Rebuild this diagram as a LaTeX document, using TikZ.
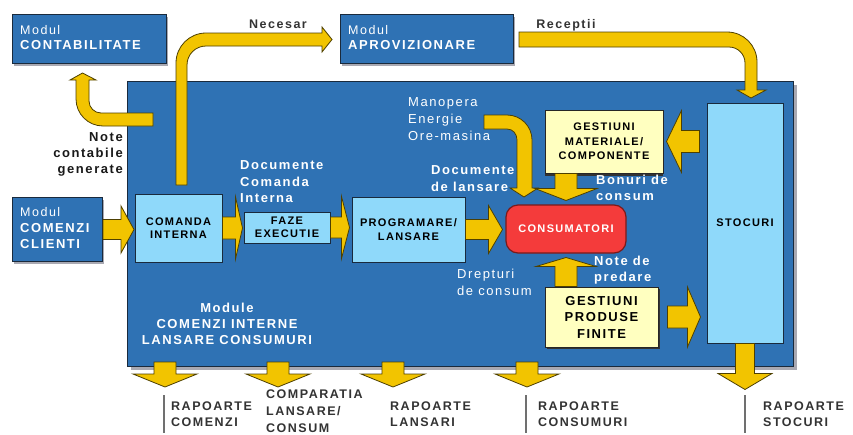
\documentclass[tikz,border=0pt]{standalone}
\usepackage{fontspec}
\setmainfont{Liberation Sans}[LetterSpace=12]
\usetikzlibrary{calc}
\definecolor{mainblue}{HTML}{2F72B4}
\definecolor{lightblue}{HTML}{8FD9FA}
\definecolor{ayellow}{HTML}{F2C400}
\definecolor{aedge}{HTML}{4E4000}
\definecolor{lyellow}{HTML}{FFFFC0}
\definecolor{cred}{HTML}{F43B3B}
\definecolor{credge}{HTML}{7A1A1A}
\definecolor{bedge}{HTML}{1A2A3C}
\definecolor{shadowgray}{HTML}{A9A9B2}
\definecolor{darktext}{HTML}{333333}
\definecolor{sepgray}{HTML}{707070}

\newcommand\blockarrow[6]{%
  \draw[yarrow, shift={#1}, rotate=#2] (0,-#4) -- ({#3-#6},-#4) -- ({#3-#6},-#5) -- (#3,0) -- ({#3-#6},#5) -- ({#3-#6},#4) -- (0,#4) -- cycle;}

\begin{document}
\begin{tikzpicture}[x=1pt,y=-1pt,
  yarrow/.style={fill=ayellow, draw=aedge, line width=0.8pt, line join=miter},
  modbox/.style={draw=bedge, line width=1pt, fill=mainblue, inner sep=0pt, anchor=north west},
  lbbox/.style={draw=bedge, line width=1pt, fill=lightblue, inner sep=0pt, align=center, text=black, font=\bfseries\fontsize{11}{13.5}\selectfont},
  lybox/.style={draw=black!85, line width=1pt, fill=lyellow, inner sep=0pt, align=center, text=black},
  wb/.style={inner sep=0pt, anchor=west, text=white, font=\bfseries\fontsize{13}{15}\selectfont, text height=9.3pt, text depth=0pt},
  wr/.style={wb, font=\fontsize{13}{15}\selectfont},
  bb/.style={wb, text=black!90},
  rb/.style={inner sep=0pt, anchor=west, text=darktext, font=\bfseries\fontsize{12.5}{15}\selectfont, text height=8.95pt, text depth=0pt},
  modl/.style={inner sep=0pt, anchor=west, text=white, font=\fontsize{12.5}{14}\selectfont, text height=8.95pt, text depth=0pt},
  sepline/.style={draw=sepgray, line width=2pt}
]
\useasboundingbox (0,0) rectangle (853,434);
\fill[white] (0,0) rectangle (853,434);

% main module area
\fill[shadowgray] (131,85) rectangle (797,370);
\node[modbox, minimum width=666pt, minimum height=285pt] (main) at (127,81) {};

% external modules
\fill[shadowgray] (14,17) rectangle (168,66);
\node[modbox, minimum width=154pt, minimum height=49pt] (mcont) at (12,14) {};
\fill[shadowgray] (342,17) rectangle (515,66);
\node[modbox, minimum width=173pt, minimum height=49pt] (maprov) at (340,14) {};
\fill[shadowgray] (14,200) rectangle (104,264);
\node[modbox, minimum width=90pt, minimum height=64pt] (cc) at (12,197) {};

% curved arrows
\draw[yarrow] (176,185) -- (176,63) .. controls (176,46.4) and (189.4,33) .. (206,33) -- (322,33) -- (322,27) -- (332,39.5) -- (322,52) -- (322,46) -- (206,46) .. controls (195.5,46) and (187,54.5) .. (187,65) -- (187,185) -- cycle;
\draw[yarrow] (519,32) -- (727,32) .. controls (743.6,32) and (757,45.4) .. (757,62) -- (757,90) -- (766,90) -- (751,98) -- (737,90) -- (745,90) -- (745,63) .. controls (745,54.2) and (737.8,47) .. (729,47) -- (519,47) -- cycle;
\draw[yarrow] (153,113) -- (153,126) -- (103,126) .. controls (88.1,126) and (76,113.9) .. (76,99) -- (76,80) -- (70,80) -- (82.5,73) -- (96,80) -- (89,80) -- (89,101) .. controls (89,107.6) and (94.4,113) .. (101,113) -- cycle;
\draw[yarrow] (484,115) -- (507,115) .. controls (520.8,115) and (532,126.2) .. (532,140) -- (532,188) -- (538,188) -- (524,197) -- (510,188) -- (517,188) -- (517,140) .. controls (517,134) and (513,129) .. (507,129) -- (484,129) -- cycle;

% internal boxes
\node[lbbox, minimum width=87pt, minimum height=68pt] (ci) at (178.5,228) {COMANDA\\INTERNA};
\node[lbbox, minimum width=86pt, minimum height=31pt] (fe) at (287,227.5) {FAZE\\EXECUTIE};
\node[lbbox, minimum width=113pt, minimum height=65pt] (pl) at (408.5,229.5) {PROGRAMARE/\\LANSARE};
\node[lbbox, minimum width=76pt, minimum height=240pt] (st) at (745,223) {STOCURI};
\node[draw=credge, line width=1.2pt, fill=cred, rounded corners=12pt, minimum width=120pt, minimum height=48pt, inner sep=0pt, text=white, font=\bfseries\fontsize{11}{13}\selectfont] (cons) at (566,229) {CONSUMATORI};
\fill[black!80] (545,110) rectangle (663,176);
\node[lybox, minimum width=118pt, minimum height=63pt, font=\bfseries\fontsize{11}{14.5}\selectfont] (gm) at (604,141.5) {GESTIUNI\\MATERIALE/\\COMPONENTE};
\fill[black!80] (547,289) rectangle (660,349);
\node[lybox, minimum width=113pt, minimum height=60pt, font=\bfseries\fontsize{13}{16.5}\selectfont] (gp) at (601.5,317) {GESTIUNI\\PRODUSE\\FINITE};

% straight block arrows
\blockarrow{(cc.east)}{0}{31}{10}{23.5}{13}
\blockarrow{(ci.east)}{0}{20}{11}{31}{7}
\blockarrow{(fe.east)}{0}{19}{10.5}{31}{8}
\blockarrow{(pl.east)}{0}{37}{10}{24}{14}
\blockarrow{(gm.south -| cons.center)}{-90}{27}{11}{31}{12}
\blockarrow{(gp.north -| cons.center)}{90}{29}{11}{30}{9}
\blockarrow{($(st.west |- gm.east)+(-7,0)$)}{180}{33}{11}{31}{15}
\blockarrow{($(gp.east)+(9,0)$)}{0}{33}{11}{30}{13}
\blockarrow{(st.south)}{-90}{46}{9.5}{27}{16}
\coordinate (b1) at (165,362);
\coordinate (b2) at (278,362);
\coordinate (b3) at (393,362);
\coordinate (b4) at (527,362);
\blockarrow{(b1)}{-90}{25}{11}{32}{13}
\blockarrow{(b2)}{-90}{25}{11}{32}{13}
\blockarrow{(b3)}{-90}{25}{11}{32}{13}
\blockarrow{(b4)}{-90}{25}{11}{32}{13}

% module texts
\node[modl] (t1) at (20,30) {Modul};
\node[wb] (t2) at (20,45) {CONTABILITATE};
\node[modl] (t3) at (348,30) {Modul};
\node[wb] (t4) at (348,45) {APROVIZIONARE};
\node[modl] (t5) at (20,212) {Modul};
\node[wb] (t6) at (20,228) {COMENZI};
\node[wb] (t7) at (20,244) {CLIENTI};

% flow labels
\node[rb, anchor=center] (nec) at (278,24) {Necesar};
\node[rb, anchor=center] (rec) at (566,24) {Receptii};
\node[bb, anchor=east] (nc1) at (123,137) {Note};
\node[bb, anchor=east] (nc2) at (123,153) {contabile};
\node[bb, anchor=east] (nc3) at (123,169) {generate};

\node[wb] (dc1) at (240,165) {Documente};
\node[wb] (dc2) at (240,182) {Comanda};
\node[wb] (dc3) at (240,198) {Interna};
\node[wr] (mo1) at (408,102) {Manopera};
\node[wr] (mo2) at (408,119) {Energie};
\node[wr] (mo3) at (408,136) {Ore-masina};
\node[wb] (dl1) at (431,170) {Documente};
\node[wb] (dl2) at (431,187) {de lansare};
\node[wb] (bo1) at (596,180) {Bonuri de};
\node[wb] (bo2) at (596,196) {consum};
\node[wb] (np1) at (594,261) {Note de};
\node[wb] (np2) at (594,277) {predare};
\node[wr] (dr1) at (457,274) {Drepturi};
\node[wr] (dr2) at (457,291) {de consum};
\node[wb, anchor=center] (md1) at (227,308) {Module};
\node[wb, anchor=center] (md2) at (227,324) {COMENZI INTERNE};
\node[wb, anchor=center] (md3) at (227,340) {LANSARE CONSUMURI};

% reports
\draw[sepline] (164,395) -- (164,433);
\draw[sepline] (526,395) -- (526,433);
\draw[sepline] (745,395) -- (745,433);
\node[rb] (r1a) at (171,406) {RAPOARTE};
\node[rb] (r1b) at (171,422) {COMENZI};
\node[rb] (r2a) at (266,394) {COMPARATIA};
\node[rb] (r2b) at (266,411) {LANSARE/};
\node[rb] (r2c) at (266,428) {CONSUM};
\node[rb] (r3a) at (390,406) {RAPOARTE};
\node[rb] (r3b) at (390,422) {LANSARI};
\node[rb] (r4a) at (538,406) {RAPOARTE};
\node[rb] (r4b) at (538,422) {CONSUMURI};
\node[rb] (r5a) at (763,406) {RAPOARTE};
\node[rb] (r5b) at (763,422) {STOCURI};
\end{tikzpicture}
\end{document}
